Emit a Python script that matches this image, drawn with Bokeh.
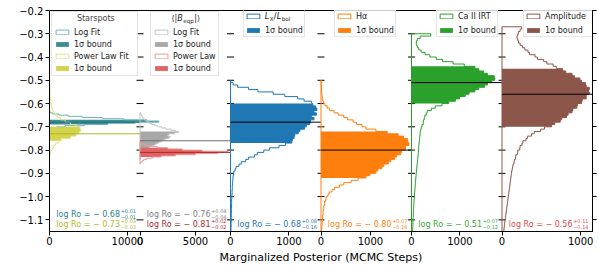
import math
from bokeh.plotting import figure
from bokeh.models import (Range1d, FixedTicker, CustomJSTickFormatter, Label, Legend,
                          LegendItem, LinearAxis)
from bokeh.embed import file_html
from bokeh.resources import INLINE

# ---------------- data ----------------
Y_MIN, Y_MAX = -1.15, -0.2
y_ticks = [-1.1, -1.0, -0.9, -0.8, -0.7, -0.6, -0.5, -0.4, -0.3, -0.2]

panel_xmax = [11600, 8150, 1550, 1830, 1870, 1150]
panel_xticks = [[0, 10000], [0, 5000], [0, 1000], [0, 1000], [0, 1000], [0, 1000]]

# Histograms: upper edge of the first bin, bin width, counts per bin (downwards in log Ro)
spot_log_top, spot_log_w = -0.635, 0.005
spot_log_counts = [100, 400, 1200, 2400, 4200, 6800, 9500, 12500, 14000, 11000,
                   7500, 4500, 2000, 900, 200]
spot_log_sigma = (-0.67, -0.69)

spot_pow_top, spot_pow_w = -0.50, 0.01
spot_pow_counts = [30, 40, 50, 60, 70, 80, 100, 120, 150, 180,
                   220, 280, 380, 500, 700, 1000, 1400, 2000, 2700, 3400,
                   3900, 4000, 3800, 3400, 2700, 1500, 1200, 750, 500, 330,
                   200, 100, 40]
spot_pow_sigma = (-0.70, -0.76)

b_log_top, b_log_w = -0.640, 0.005
b_log_counts = [50, 100, 150, 220, 300, 400, 520, 680, 850, 1050,
                1300, 1600, 1950, 2350, 2800, 3200, 3450, 3100, 2600, 2500,
                2700, 2600, 2300, 2100, 1900, 1700, 1500, 1300, 1100, 900,
                700, 550, 420, 320, 240, 170, 120, 80, 50, 30]
b_log_sigma = (-0.72, -0.80)

b_pow_top, b_pow_w = -0.765, 0.005
b_pow_counts = [100, 300, 600, 1000, 1600, 2500, 3800, 5600, 7900, 7000,
                5000, 3200, 1900, 1100, 600, 350, 200, 100, 50]
b_pow_sigma = (-0.79, -0.83)

lx_top, lx_w = -0.50, 0.01
lx_counts = [5, 45, 120, 310, 470, 730, 930, 1150, 1260, 1390,
             1410, 1460, 1480, 1430, 1470, 1390, 1430, 1370, 1360, 1300,
             1270, 1190, 1160, 1100, 1090, 1060, 1050, 940, 830, 670,
             570, 460, 410, 310, 260, 185, 145, 95, 78, 58,
             52, 44, 42, 37, 36, 31, 31, 27, 27, 23,
             23, 19, 20, 17, 18, 15, 16, 13, 14, 11,
             12, 10, 11, 8, 9]
lx_sigma = (-0.60, -0.77)

ha_top, ha_w = -0.50, 0.01
ha_counts = [2, 4, 6, 8, 10, 15, 20, 25, 35, 50,
             80, 125, 175, 265, 345, 460, 535, 650, 720, 830,
             910, 1110, 1340, 1560, 1670, 1750, 1760, 1780, 1710, 1710,
             1630, 1610, 1530, 1490, 1410, 1360, 1270, 1230, 1150, 1110,
             990, 910, 750, 610, 460, 370, 275, 225, 165, 140,
             105, 95, 72, 68, 55, 54, 43, 42, 33, 31,
             25, 23, 17, 16, 11]
ha_sigma = (-0.72, -0.92)

ca_top, ca_w = -0.30, 0.01
ca_counts = [400, 180, 120, 100, 100, 120, 150, 200, 280, 380,
             510, 640, 860, 1090, 1310, 1390, 1490, 1570, 1710, 1720,
             1660, 1570, 1510, 1390, 1310, 1190, 1110, 990, 910, 770,
             630, 490, 410, 325, 305, 275, 265, 245, 243, 218,
             200, 190, 180, 175, 170, 165, 160, 155, 150, 148,
             145, 140, 135, 130, 125, 120, 115, 110, 105, 100,
             96, 92, 88, 84, 80, 76, 72, 68, 64, 60,
             57, 54, 51, 48, 45, 42, 40, 38, 36, 34,
             32, 30, 28, 26, 24]
ca_sigma = (-0.44, -0.60)

amp_top, amp_w = -0.27, 0.01
amp_counts = [250, 230, 210, 200, 190, 200, 210, 230, 260, 290,
              330, 350, 420, 450, 530, 570, 650, 690, 770, 810,
              890, 920, 990, 1010, 1060, 1070, 1110, 1100, 1110, 1070,
              1070, 1020, 1010, 960, 950, 900, 890, 840, 820, 760,
              740, 670, 630, 540, 490, 410, 375, 325, 305, 265,
              255, 230, 225, 200, 195, 175, 172, 157, 152, 140,
              135, 128, 122, 118, 114, 110, 106, 102, 98, 94,
              90, 86, 82, 78, 74, 70, 66, 62, 58, 54,
              50, 46, 42, 38, 34, 30, 27, 24]
amp_sigma = (-0.45, -0.70)

# medians and uncertainties per panel
stat_median = [[-0.68, -0.73], [-0.76, -0.81], [-0.68], [-0.80], [-0.51], [-0.56]]
stat_plus = [[0.01, 0.03], [0.04, 0.02], [0.08], [0.07], [0.07], [0.11]]
stat_minus = [[0.01, 0.03], [0.04, 0.02], [0.16], [0.16], [0.12], [0.14]]

legend_titles = ["Starspots", None, None, None, None, None]
outline_labels = [["Log Fit", "Power Law Fit"], ["Log Fit", "Power Law"], ["\u00a0" * 10],
                  ["H\u03b1"], ["Ca II IRT"], ["Amplitude"]]

# ---------------- styling ----------------
FONT = "DejaVu Sans"
fills = [["#3b8d96", "#d3d34c"], ["#a8a8a8", "#e06464"], ["#1f77b4"], ["#ff7f0e"],
         ["#2ca02c"], ["#8c564b"]]
outlines = [["#6fb3ba", "#e3e38a"], ["#c4c4c4", "#ee9999"], ["#1f77b4"], ["#ff7f0e"],
            ["#2ca02c"], ["#8c564b"]]
text_cols = [["#2a7f8e", "#b7b728"], ["#808080", "#b3262e"], ["#1f77b4"], ["#ff7f0e"],
             ["#3aa83a"], ["#e24a4a"]]
med_cols = [["#226f78", "#b5b52a"], ["#707070", "#b02a2a"], ["black"], ["black"],
            ["black"], ["black"]]
legend_bg_alpha = [0.8, 0.0, 0.0, 0.8, 0.8, 0.8]

hists = [
    [(spot_log_top, spot_log_w, spot_log_counts, spot_log_sigma),
     (spot_pow_top, spot_pow_w, spot_pow_counts, spot_pow_sigma)],
    [(b_log_top, b_log_w, b_log_counts, b_log_sigma),
     (b_pow_top, b_pow_w, b_pow_counts, b_pow_sigma)],
    [(lx_top, lx_w, lx_counts, lx_sigma)],
    [(ha_top, ha_w, ha_counts, ha_sigma)],
    [(ca_top, ca_w, ca_counts, ca_sigma)],
    [(amp_top, amp_w, amp_counts, amp_sigma)],
]

W, H = 598, 266
LEFT, RIGHT, TOP, BOTTOM = 49, 6, 10, 35
FRAME_W = W - LEFT - RIGHT
FRAME_H = H - TOP - BOTTOM
PW = FRAME_W / 6.0


def step_outline(top, w, counts):
    xs, ys = [0.0], [top]
    for i, c in enumerate(counts):
        xs += [c, c]
        ys += [top - i * w, top - (i + 1) * w]
    xs.append(0.0)
    ys.append(top - len(counts) * w)
    return xs, ys


def step_fill(top, w, counts, hi, lo):
    xs, ys, yend = [], [], None
    for i, c in enumerate(counts):
        y0, y1 = top - i * w, top - (i + 1) * w
        if y0 <= hi + 1e-9 and y1 >= lo - 1e-9:
            if not xs:
                xs.append(0.0)
                ys.append(y0)
            xs += [c, c]
            ys += [y0, y1]
            yend = y1
    xs.append(0.0)
    ys.append(yend)
    return xs, ys


p = figure(width=W, height=H, x_range=Range1d(0, 6), y_range=Range1d(Y_MIN, Y_MAX),
           output_backend="svg", toolbar_location=None,
           min_border_left=LEFT, min_border_right=RIGHT, min_border_top=TOP,
           min_border_bottom=BOTTOM)
p.grid.visible = False
p.outline_line_color = "black"
p.outline_line_width = 1
p.background_fill_color = "white"
p.border_fill_color = "white"

# y axis
p.yaxis.ticker = FixedTicker(ticks=y_ticks, minor_ticks=[])
p.yaxis.formatter = CustomJSTickFormatter(
    code="return (tick < 0 ? '\u2212' : '') + Math.abs(tick).toFixed(1);")
p.yaxis.major_label_text_font = FONT
p.yaxis.major_label_text_font_size = "10px"
p.yaxis.major_label_text_color = "black"
p.yaxis.major_tick_out = 4
p.yaxis.major_tick_in = 0
p.yaxis.major_label_standoff = 2
p.yaxis.axis_line_color = "black"
p.yaxis.major_tick_line_color = "black"

ry = LinearAxis(ticker=FixedTicker(ticks=y_ticks, minor_ticks=[]),
                formatter=CustomJSTickFormatter(code="return '';"),
                major_label_standoff=0,
                major_tick_out=4, major_tick_in=0, axis_line_color="black",
                major_tick_line_color="black")
p.add_layout(ry, "right")

# x axis
xt_pos, xt_over = [], {}
for i in range(6):
    for t in panel_xticks[i]:
        pos = i + t / panel_xmax[i]
        xt_pos.append(pos)
        xt_over[pos] = str(t)
p.xaxis.ticker = FixedTicker(ticks=xt_pos, minor_ticks=[])
p.xaxis.major_label_overrides = xt_over
p.xaxis.major_label_text_font = FONT
p.xaxis.major_label_text_font_size = "10px"
p.xaxis.major_label_text_color = "black"
p.xaxis.major_tick_out = 4
p.xaxis.major_tick_in = 0
p.xaxis.major_label_standoff = 1
p.xaxis.axis_line_color = "black"
p.xaxis.axis_label = "Marginalized Posterior (MCMC Steps)"
p.xaxis.axis_label_text_font = FONT
p.xaxis.axis_label_text_font_size = "11px"
p.xaxis.axis_label_text_font_style = "normal"
p.xaxis.axis_label_standoff = 3
p.xaxis.axis_label_text_color = "black"

# ticks on panel boundaries
dx = 3.5 / PW
for b in range(1, 6):
    p.segment(x0=[b - dx] * len(y_ticks), x1=[b + dx] * len(y_ticks),
              y0=y_ticks, y1=y_ticks, line_color="black", line_width=1)


def add_text(x, y, text, size, color, align="left", xo=0, yo=0, style="normal", angle=0.0):
    p.add_layout(Label(x=x, y=y, text=text, x_offset=xo, y_offset=yo, text_font=FONT,
                       text_font_size=f"{size}px", text_color=color, text_align=align,
                       text_baseline="middle", text_font_style=style, angle=angle))


legend_pos = [(2, 155), (101, 155), (194, 194), (285, 194), (387, 194), (474, 194)]
legend_label_w = [61, 20, 20, 20, 20, 46]

for i in range(6):
    sub = p.subplot(x_source=Range1d(0, panel_xmax[i]), y_source=Range1d(Y_MIN, Y_MAX),
                    x_target=Range1d(i, i + 1), y_target=Range1d(Y_MIN, Y_MAX))
    items = []
    for k, (top, w, counts, (hi, lo)) in enumerate(hists[i]):
        fx, fy = step_fill(top, w, counts, hi, lo)
        ox, oy = step_outline(top, w, counts)
        rf = sub.patch(fx, fy, fill_color=fills[i][k], fill_alpha=1.0, line_color=None)
        ro = sub.patch(ox, oy, fill_color=None, line_color=outlines[i][k], line_width=1)
        items.append(LegendItem(label=outline_labels[i][k], renderers=[ro]))
        items.append(LegendItem(label="1\u03c3 bound", renderers=[rf]))
    # median lines
    for k, m in enumerate(stat_median[i]):
        p.segment(x0=[i], x1=[i + 1], y0=[m], y1=[m], line_color=med_cols[i][k], line_width=1)
    # legend
    four = len(items) == 4
    kw = dict(items=items, location=legend_pos[i], orientation="vertical",
              padding=2 if four else 1, margin=0, spacing=2 if four else 4,
              label_height=10, label_width=legend_label_w[i], glyph_height=6,
              glyph_width=16, label_standoff=4,
              label_text_font=FONT, label_text_font_size="8px", label_text_color="#222222",
              border_line_color="#cccccc", border_line_width=1,
              background_fill_color="white", background_fill_alpha=legend_bg_alpha[i])
    if four:
        ttl = legend_titles[i] if legend_titles[i] else "\u00a0"
        if legend_titles[i]:
            ttl = "\u00a0" * 9 + ttl
        kw.update(title=ttl, title_text_font=FONT, title_text_font_size="8px",
                  title_text_font_style="normal", title_standoff=4)
    p.add_layout(Legend(**kw))
    # annotation texts
    n = len(stat_median[i])
    for k in range(n):
        yo = 17.5 if (n == 2 and k == 0) else 7.5
        col = text_cols[i][k]
        add_text(i + 1, Y_MIN, "log Ro = \u2212 %.2f" % abs(stat_median[i][k]), 8, col,
                 align="right", xo=-20, yo=yo)
        add_text(i + 1, Y_MIN, "+%.2f" % stat_plus[i][k], 5, col, align="right", xo=-4, yo=yo + 2.8)
        add_text(i + 1, Y_MIN, "\u2212%.2f" % stat_minus[i][k], 5, col, align="right", xo=-4, yo=yo - 2.8)

# legend title for the magnetic-field panel: <|B_eqp|>
TC = "#222222"
add_text(1.5, Y_MAX, "\u27e8|", 8, TC, align="right", xo=-8, yo=-8)
add_text(1.5, Y_MAX, "B", 8, TC, align="left", xo=-8, yo=-8, style="italic")
add_text(1.5, Y_MAX, "eqp", 5.6, TC, align="left", xo=-2, yo=-10)
add_text(1.5, Y_MAX, "|\u27e9", 8, TC, align="left", xo=9, yo=-8)

# legend label for the X-ray panel: L_X / L_bol
lx0 = -11
add_text(2.5, Y_MAX, "L", 8, TC, xo=lx0, yo=-6, style="italic")
add_text(2.5, Y_MAX, "X", 5.6, TC, xo=lx0 + 5, yo=-8)
add_text(2.5, Y_MAX, "/", 8, TC, xo=lx0 + 9, yo=-6)
add_text(2.5, Y_MAX, "L", 8, TC, xo=lx0 + 12, yo=-6, style="italic")
add_text(2.5, Y_MAX, "bol", 5.6, TC, xo=lx0 + 17, yo=-8)

# y label
add_text(0, -0.643, "log Ro", 11, "black", align="center", xo=-40, angle=math.pi / 2)

with open("out.html", "w", encoding="utf-8") as f:
    f.write(file_html(p, INLINE))
